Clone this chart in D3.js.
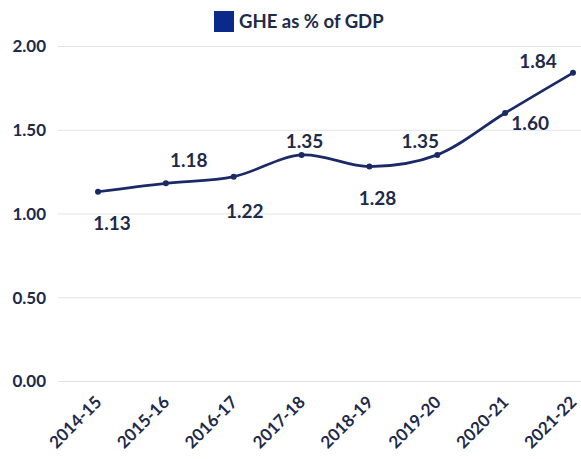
<!DOCTYPE html>
<html>
<head>
<meta charset="utf-8">
<script src="https://cdn.jsdelivr.net/npm/d3@7"></script>
<style>
  body { margin: 0; background: #fff; }
  text { font-family: "Lato", "Open Sans", sans-serif; }
</style>
</head>
<body>
<script>
'use strict';
// chart data
const years = ["2014-15", "2015-16", "2016-17", "2017-18", "2018-19", "2019-20", "2020-21", "2021-22"];
const ghe = [1.13, 1.18, 1.22, 1.35, 1.28, 1.35, 1.60, 1.84];
const yTicks = [0, 0.5, 1.0, 1.5, 2.0];
const seriesName = "GHE as % of GDP";

(function() {
    const width = 581, height = 459;
    const navy = "#1b2a66";
    const textCol = "#1e2a4a";
    // label nudges (px) from each point, as placed in the original
    const labelDx = [14, 23, 11, 3, 8, -17, 25, -35];
    const labelDy = [38, -16, 41, -7, 38, -7, 17, -5];

    let svg = d3.select('body')
        .append('svg')
        .attr('width', width)
        .attr('height', height);

    // scales
    let xScale = d3.scalePoint()
        .domain(years)
        .range([98, 573]);

    let yScale = d3.scaleLinear()
        .domain([0, 2])
        .range([381, 46]);

    // gridlines + y labels
    let yAxis = d3.axisLeft(yScale)
        .tickValues(yTicks)
        .tickSize(-(width - 58))
        .tickFormat(d3.format('.2f'));
    let gy = svg.append('g')
        .attr('transform', 'translate(58,0)')
        .call(yAxis);
    gy.select('.domain').remove();
    gy.selectAll('line').attr('stroke', '#e3e3e3').attr('stroke-width', 1.2);
    gy.selectAll('text')
        .attr('x', -12)
        .attr('dy', '0.35em')
        .attr('fill', textCol)
        .style('font-size', '17px')
        .style('font-weight', 700);

    // x labels
    let xAxis = d3.axisBottom(xScale).tickSize(0);
    let gx = svg.append('g')
        .attr('transform', 'translate(0,381)')
        .call(xAxis);
    gx.select('.domain').remove();
    gx.selectAll('text')
        .attr('text-anchor', 'end')
        .attr('transform', 'translate(0,18) rotate(-45)')
        .attr('dy', '0.35em')
        .attr('y', 0)
        .attr('fill', textCol)
        .style('font-size', '17px')
        .style('font-weight', 700);

    // line
    let line = d3.line()
        .x((d, i) => xScale(years[i]))
        .y(d => yScale(d))
        .curve(d3.curveCatmullRom.alpha(0.5));

    svg.append('path')
        .datum(ghe)
        .attr('d', line)
        .attr('fill', 'none')
        .attr('stroke', navy)
        .attr('stroke-width', 2.7);

    svg.selectAll('.dot')
        .data(ghe)
        .enter()
        .append('circle')
        .attr('cx', (d, i) => xScale(years[i]))
        .attr('cy', d => yScale(d))
        .attr('r', 3)
        .attr('fill', navy);

    // data labels
    svg.selectAll('.lbl')
        .data(ghe)
        .enter()
        .append('text')
        .attr('x', (d, i) => xScale(years[i]) + labelDx[i])
        .attr('y', (d, i) => yScale(d) + labelDy[i])
        .attr('text-anchor', 'middle')
        .attr('fill', textCol)
        .style('font-size', '19px')
        .style('font-weight', 700)
        .text(d => d.toFixed(2));

    // legend
    svg.append('rect')
        .attr('x', 214)
        .attr('y', 11)
        .attr('width', 20)
        .attr('height', 21)
        .attr('fill', '#0a2a8a');
    svg.append('text')
        .attr('x', 239)
        .attr('y', 28)
        .attr('fill', textCol)
        .style('font-size', '18.5px')
        .style('font-weight', 700)
        .text(seriesName);
})();
</script>
</body>
</html>
